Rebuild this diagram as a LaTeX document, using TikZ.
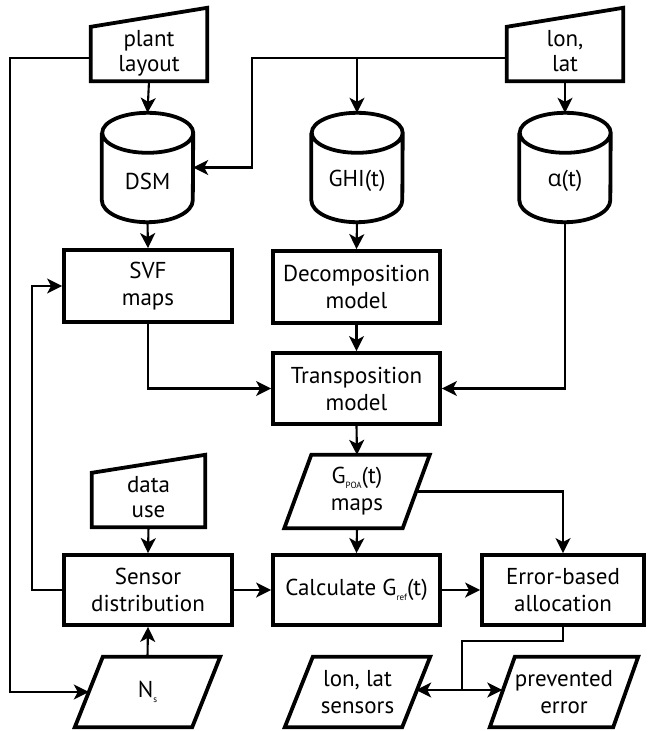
\documentclass[tikz,border=0pt]{standalone}
\usepackage{fontspec}
\setmainfont{PT Sans}
\newfontfamily\grk{Open Sans}
\usetikzlibrary{arrows.meta,calc}
\newcommand\sub[1]{\raisebox{-0.4ex}{\fontsize{9}{9}\selectfont #1}}
\tikzset{
  box/.style={draw, line width=3.8pt, align=center, inner sep=0pt, font=\fontsize{23}{27}\selectfont},
  shp/.style={inner sep=0pt, align=center, font=\fontsize{23}{27}\selectfont},
  outl/.style={line width=3.8pt, line join=miter},
  conn/.style={line width=2.1pt},
  arr/.style={conn, -{Stealth[length=15pt,width=15pt,inset=4pt]}},
}
\newcommand\drawpara[2]{\draw[outl] ([xshift=#2]#1.north west) -- ([xshift=#2]#1.north east) -- ([xshift=-#2]#1.south east) -- ([xshift=-#2]#1.south west) -- cycle;}
\newcommand\drawmanual[2]{\draw[outl] (#1.north west) -- (#1.south west) -- (#1.south east) -- ([yshift=#2]#1.north east) -- cycle;}
\newcommand\drawcyl[1]{\draw[outl] ($(#1.north west)+(0,-20pt)$) -- ($(#1.south west)+(0,22pt)$) arc[start angle=180,end angle=360,x radius=45.5pt,y radius=22pt] -- ($(#1.north east)+(0,-20pt)$) arc[start angle=0,end angle=360,x radius=45.5pt,y radius=20pt];}
\begin{document}
\begin{tikzpicture}[x=1pt,y=-1pt]
\useasboundingbox (0,0) rectangle (648,731);
% manual inputs
\node[shp, minimum width=116pt, minimum height=54pt] (plant) at (149,54) {\raisebox{3pt}{\begin{tabular}{@{}c@{}}plant\\[-2pt]layout\end{tabular}}};
\drawmanual{plant}{19pt}
\node[shp, minimum width=116pt, minimum height=54pt] (lonlat) at (565,54) {\raisebox{3pt}{\begin{tabular}{@{}c@{}}lon,\\[-2pt]lat\end{tabular}}};
\drawmanual{lonlat}{19pt}
\node[shp, minimum width=113pt, minimum height=54pt] (datause) at (148.5,500) {\raisebox{3pt}{\begin{tabular}{@{}c@{}}data\\[-2pt]use\end{tabular}}};
\drawmanual{datause}{18pt}
% cylinders
\node[shp, minimum width=91pt, minimum height=109pt] (DSM) at (147.5,167.5) {};
\drawcyl{DSM}
\node[shp] (DSMt) at (147.5,181) {DSM};
\node[shp, minimum width=91pt, minimum height=109pt] (GHI) at (357,167.5) {};
\drawcyl{GHI}
\node[shp] (GHIt) at (357,181) {GHI(t)};
\node[shp, minimum width=91pt, minimum height=109pt] (alpha) at (565,167.5) {};
\drawcyl{alpha}
\node[shp] (alphat) at (565,181) {{\grk α}(t)};
% boxes
\node[box, minimum width=168pt, minimum height=72pt] (SVF) at (148,286) {SVF\\maps};
\node[box, minimum width=167pt, minimum height=72pt] (Dec) at (356.5,287) {Decomposition\\model};
\node[box, minimum width=167pt, minimum height=71pt] (Tra) at (356.5,388.5) {Transposition\\model};
\node[box, minimum width=168pt, minimum height=70pt] (Sen) at (148,590) {Sensor\\distribution};
\node[box, minimum width=167pt, minimum height=70pt] (Cal) at (356.5,590) {Calculate G\sub{ref}(t)};
\node[box, minimum width=162pt, minimum height=70pt] (Err) at (563,590) {Error-based\\allocation};
% parallelograms
\node[shp, minimum width=118pt, minimum height=73pt] (GPOA) at (357,491.5) {G\sub{POA}(t)\\maps};
\drawpara{GPOA}{13.5pt}
\node[shp, minimum width=117pt, minimum height=70pt] (Ns) at (147.5,692) {N\sub{s}};
\drawpara{Ns}{14pt}
\node[shp, minimum width=117pt, minimum height=70pt] (lls) at (357.5,692) {lon, lat\\sensors};
\drawpara{lls}{14pt}
\node[shp, minimum width=123pt, minimum height=70pt] (pe) at (564,692) {prevented\\error};
\drawpara{pe}{12.5pt}
% connectors
\coordinate (plA) at ([yshift=-4pt]plant.west);
\coordinate (llA) at ([yshift=-4pt]lonlat.west);
\coordinate (kL) at (10,400);
\draw[arr] (plA) -| (kL) |- (Ns.west);
\coordinate (kD) at (252,100);
\draw[arr] (llA) -| (kD) |- (DSM.east);
\coordinate (kG) at (GHI.north |- llA);
\draw[arr] (kG) -- (GHI.north);
\draw[arr] (plant.south) -- (DSM.north);
\draw[arr] (lonlat.south) -- (alpha.north);
\draw[arr] (DSM.south) -- (SVF.north);
\draw[arr] (GHI.south) -- (Dec.north);
\draw[arr] (Dec.south) -- (Tra.north);
\draw[arr] (SVF.south) |- (Tra.west);
\draw[arr] (alpha.south) |- (Tra.east);
\draw[arr] (Tra.south) -- (GPOA.north);
\draw[arr] (GPOA.south) -- (Cal.north);
\draw[arr] (GPOA.east) -| (Err.north);
\draw[arr] (datause.south) -- (Sen.north);
\draw[arr] (Ns.north) -- (Sen.south);
\draw[arr] (Sen.east) -- (Cal.west);
\draw[arr] (Cal.east) -- (Err.west);
\coordinate (kS) at (32,400);
\draw[arr] (Sen.west) -| (kS) |- (SVF.west);
\coordinate (kE) at (Err.south |- 0,641);
\coordinate (kJ) at (462,690);
\draw[conn] (Err.south) -- (kE) -| (kJ);
\draw[arr] (kJ) -- (kJ -| lls.east);
\draw[arr] (kJ) -- (kJ -| pe.west);
\end{tikzpicture}
\end{document}
